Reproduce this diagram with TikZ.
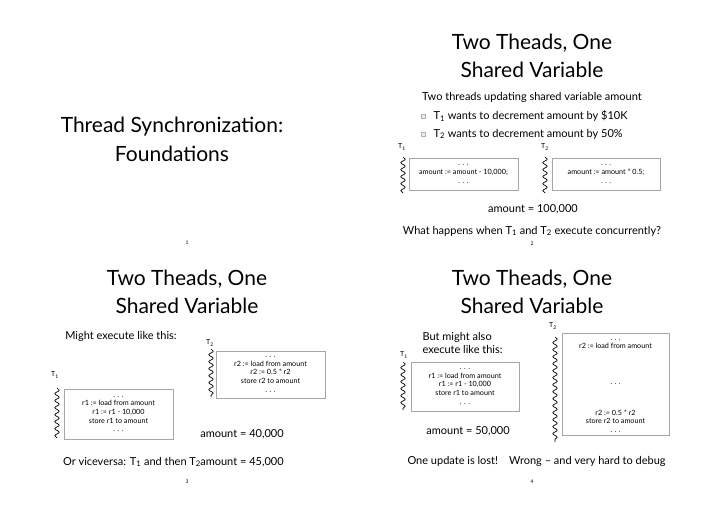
\documentclass[tikz,border=0pt]{standalone}
\usepackage{fontspec}
\setmainfont{Lato}
\usetikzlibrary{decorations.pathmorphing}
\begin{document}
\begin{tikzpicture}[x=1pt,y=-1pt,
  ttl/.style={font=\fontsize{21}{23}\selectfont},
  txt/.style={font=\fontsize{11}{12}\selectfont},
  sm/.style={font=\fontsize{7}{8}\selectfont},
  pg/.style={font=\fontsize{5}{6}\selectfont},
  cf/.style={font=\fontsize{7.2}{8.6}\selectfont,align=center},
  code/.style={draw=gray!70,line width=0.6pt,cf,inner sep=0pt},
  wave/.style={decorate,decoration={snake,amplitude=2.2pt,segment length=7pt},line width=0.7pt},
  bul/.style={draw=gray!60,fill=gray!15,minimum size=4pt,inner sep=0pt}]
\useasboundingbox (0,0) rectangle (720,509);
% slide 1
\node[ttl] (s1a) at (172,127) {Thread Synchronization:};
\node[ttl] (s1b) at (172,154) {Foundations};
\node[pg] (p1) at (187,243) {1};
% slide 2
\node[ttl] (s2a) at (532,43) {Two Theads, One};
\node[ttl] (s2b) at (532,70) {Shared Variable};
\node[txt] (s2c) at (532,97) {Two threads updating shared variable amount};
\node[bul] (b1) at (423,116) {};
\node[txt,anchor=west] (b1t) at (430,116) {T\textsubscript{1} wants to decrement amount by \$10K};
\node[bul] (b2) at (423,134) {};
\node[txt,anchor=west] (b2t) at (430,134) {T\textsubscript{2} wants to decrement amount by 50\%};
\node[sm] (t1a) at (402,147) {T\textsubscript{1}};
\node[sm] (t2a) at (545,147) {T\textsubscript{2}};
\node[code,minimum width=109pt,minimum height=32pt] (c1) at (463.5,174) {. . .\\amount := amount - 10,000;\\. . .};
\node[code,minimum width=108pt,minimum height=32pt] (c2) at (606,174) {. . .\\amount := amount * 0.5;\\. . .};
\coordinate (w1a) at (403,157); \coordinate (w1b) at (403,193);
\coordinate (w2a) at (545,157); \coordinate (w2b) at (545,193);
\draw[wave] (w1a) -- (w1b); \draw[wave] (w2a) -- (w2b);
\node[txt] (am2) at (533,209) {amount = 100,000};
\node[txt] (q2) at (532,231) {What happens when T\textsubscript{1} and T\textsubscript{2} execute concurrently?};
\node[pg] (p2) at (532,244) {2};
% slide 3
\node[ttl] (s3a) at (187,279) {Two Theads, One};
\node[ttl] (s3b) at (187,306) {Shared Variable};
\node[txt] (s3c) at (121,336) {Might execute like this:};
\node[sm] (t2b) at (210,343) {T\textsubscript{2}};
\node[code,minimum width=109pt,minimum height=47pt] (c3) at (270.5,374.5) {. . .\\r2 := load from amount\\r2 := 0.5 * r2\\store r2 to amount\\. . .};
\node[sm] (t1b) at (55,375) {T\textsubscript{1}};
\node[code,minimum width=109pt,minimum height=50pt] (c4) at (118.5,414) {. . .\\r1 := load from amount\\r1 := r1 - 10,000\\store r1 to amount\\. . .};
\coordinate (w3a) at (211,349); \coordinate (w3b) at (211,397);
\coordinate (w4a) at (57,388); \coordinate (w4b) at (57,438);
\draw[wave] (w3a) -- (w3b); \draw[wave] (w4a) -- (w4b);
\node[txt] (am3) at (242,434) {amount = 40,000};
\node[txt] (v3) at (132,462) {Or viceversa: T\textsubscript{1} and then T\textsubscript{2}};
\node[txt] (am3b) at (242,462) {amount = 45,000};
\node[pg] (p3) at (187,482) {3};
% slide 4
\node[ttl] (s4a) at (532,279) {Two Theads, One};
\node[ttl] (s4b) at (532,306) {Shared Variable};
\node[txt,anchor=west,align=left] (s4c) at (419,342.5) {But might also\\[1pt]execute like this:};
\node[sm] (t1c) at (404,355) {T\textsubscript{1}};
\node[code,minimum width=108pt,minimum height=49pt] (c5) at (465,386.5) {. . .\\r1 := load from amount\\r1 := r1 - 10,000\\store r1 to amount\\. . .};
\node[sm] (t2c) at (553,326) {T\textsubscript{2}};
\node[code,minimum width=107pt,minimum height=102pt] (c6) at (615.5,384) {};
\node[cf] (c6a) at (615.5,344) {. . .\\r2 := load from amount};
\node[cf] (c6b) at (615.5,384) {. . .};
\node[cf] (c6c) at (615.5,421) {r2 := 0.5 * r2\\store r2 to amount\\. . .};
\coordinate (w5a) at (403,362); \coordinate (w5b) at (403,410);
\coordinate (w6a) at (555,337); \coordinate (w6b) at (555,442);
\draw[wave] (w5a) -- (w5b); \draw[wave] (w6a) -- (w6b);
\node[txt] (am4) at (468,431) {amount = 50,000};
\node[txt,anchor=west] (l4) at (404,461) {One update is lost!\quad Wrong – and very hard to debug};
\node[pg] (p4) at (532,482) {4};
\end{tikzpicture}
\end{document}
